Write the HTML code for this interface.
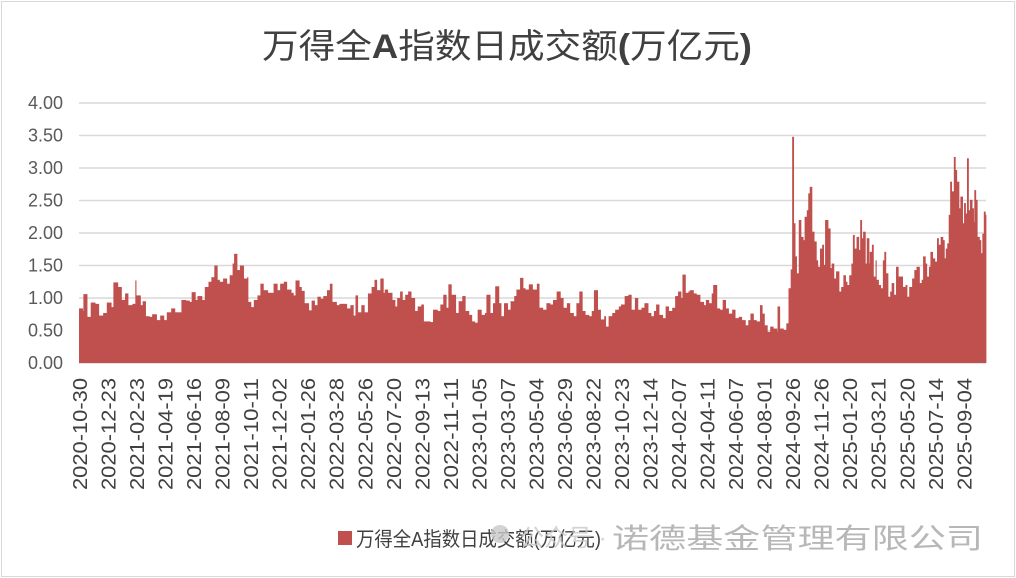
<!DOCTYPE html>
<html><head><meta charset="utf-8">
<style>
html,body{margin:0;padding:0;background:#fff;}
body{width:1016px;height:578px;overflow:hidden;font-family:"Liberation Sans","Noto Sans CJK SC",sans-serif;}
#frame{position:absolute;left:1px;top:1px;width:1012px;height:574px;border:1px solid #d9d9d9;}
</style></head>
<body>
<div id="frame"></div>
<svg id="chart" width="1016" height="578" style="position:absolute;left:0;top:0">
<text x="262" y="58" font-size="34" fill="#404040" textLength="490" lengthAdjust="spacingAndGlyphs" font-family="Liberation Sans, Noto Sans CJK SC, sans-serif">万得全<tspan font-weight="bold">A</tspan>指数日成交额<tspan font-weight="bold">(</tspan>万亿元<tspan font-weight="bold">)</tspan></text>
<g id="grid"></g><g id="bars"></g><g id="yaxis"></g><g id="xaxis"></g>
<g>
<rect x="338" y="531" width="14" height="14" fill="#c0504d"></rect>
<text x="356" y="546" font-size="20" fill="#404040" textLength="245" lengthAdjust="spacingAndGlyphs">万得全A指数日成交额(万亿元)</text>
</g>
<g opacity="0.8">
<circle cx="500" cy="534" r="9" fill="#c8c8c8"></circle>
<text x="520" y="546" font-size="24" fill="#c8c8c8">公众号 ·</text>
<text x="612" y="548" font-size="28" fill="#a6a6a6" textLength="371" lengthAdjust="spacingAndGlyphs">诺德基金管理有限公司</text>
</g>
</svg>
<script>
const tickLabels=["2020-10-30","2020-12-23","2021-02-23","2021-04-19","2021-06-16","2021-08-09","2021-10-11","2021-12-02","2022-01-26","2022-03-28","2022-05-26","2022-07-20","2022-09-13","2022-11-11","2023-01-05","2023-03-07","2023-05-04","2023-06-29","2023-08-22","2023-10-23","2023-12-14","2024-02-07","2024-04-11","2024-06-07","2024-08-01","2024-09-26","2024-11-26","2025-01-20","2025-03-21","2025-05-20","2025-07-14","2025-09-04"];
const yTicks=[0,0.5,1,1.5,2,2.5,3,3.5,4];
const totalDays=1240;
const days=[0,5,6,11,16,22,27,33,38,44,47,53,58,63,67,73,77,78,84,87,91,96,100,106,111,116,120,126,131,137,140,146,151,154,159,162,168,172,177,181,185,189,192,197,202,206,210,212,216,220,225,230,231,235,239,244,248,252,258,262,266,271,275,280,284,290,293,296,301,304,308,314,318,322,326,330,334,339,343,346,352,356,361,366,371,375,378,381,386,390,395,400,404,407,412,416,
418,422,428,432,435,439,442,446,450,454,459,463,468,471,475,480,484,490,494,498,502,505,509,515,519,524,528,533,537,541,545,550,555,557,562,566,569,574,577,581,586,590,595,598,603,607,610,615,620,626,629,634,639,644,648,653,658,662,667,671,676,680,684,688,692,697,701,704,709,713,718,720,724,729,733,738,741,746,751,755,760,764,769,773,778,782,786,789,793,798,802,806,811,815,819,823,825,829,833,
835,840,844,849,854,857,861,865,867,872,876,880,884,888,893,897,902,906,911,915,918,922,926,931,934,937,941,945,949,954,955,958,963,967,970,973,975,977,979,981,984,987,990,992,995,997,999,1002,1005,1008,1010,1013,1016,1018,1020,1024,1027,1029,1032,1035,1039,1042,1045,1048,1050,1053,1056,1058,1060,1063,1066,1068,1070,1072,1075,1077,1080,1081,1084,1086,1089,1090,1093,1096,1099,1101,1103,1106,1109,1111,1114,1117,1120,1123,1126,1130,1132,1135,1139,1142,1145,1149,1152,1154,1157,1159,1162,1164,1167,1170,1173,1175,1178,1181,1183,1185,1187,1189,1191,1193,1196,1198,1200,1203,1205,1208,1210,1212,1214,1216,1218,1221,1223,1224,1226,1228,1231,1233,1235,1237,1239];
const values=[0.84,0.80,1.06,0.71,0.93,0.91,0.73,0.77,0.93,0.86,1.24,1.17,0.97,1.07,0.89,0.91,1.27,1.04,0.89,0.95,0.72,0.71,0.75,0.66,0.73,0.66,0.78,0.84,0.78,0.78,0.97,0.96,0.94,1.09,0.97,1.03,0.97,1.17,1.25,1.32,1.50,1.28,1.25,1.30,1.22,1.35,1.53,1.68,1.43,1.50,1.30,1.32,0.94,0.86,0.97,1.04,1.22,1.12,1.08,1.08,1.22,1.12,1.22,1.25,1.13,1.08,1.04,1.27,1.17,1.11,0.92,0.81,0.96,0.89,1.02,0.99,1.03,1.12,1.22,0.94,0.89,0.91,0.91,0.84,0.89,0.73,1.04,0.78,0.89,0.78,1.07,1.17,1.28,1.12,1.30,1.08,
1.13,1.08,0.97,0.87,1.00,1.10,0.97,1.05,1.10,1.00,0.80,0.87,0.90,0.64,0.64,0.63,0.82,0.80,0.90,1.05,0.85,1.21,1.05,0.77,0.95,1.03,0.80,0.74,0.64,0.62,0.82,0.74,0.77,1.05,0.77,0.92,1.18,0.92,0.72,0.92,0.82,0.95,1.03,1.13,1.31,1.15,1.13,1.21,1.13,1.22,0.85,0.82,0.92,0.90,0.97,1.10,1.00,0.85,0.92,0.77,0.72,0.92,1.10,0.80,0.74,0.72,0.80,1.12,0.82,0.67,0.72,0.56,0.72,0.77,0.82,0.87,0.90,1.03,1.05,0.82,1.00,0.82,0.85,0.92,0.77,0.72,0.80,0.90,0.74,0.69,0.87,0.80,0.85,1.03,1.10,1.00,1.36,1.08,1.10,
1.12,1.07,1.05,0.94,0.89,0.97,0.92,1.07,1.20,0.84,0.82,0.97,0.84,0.76,0.82,0.69,0.71,0.66,0.58,0.66,0.76,0.66,0.64,0.89,0.76,0.58,0.48,0.56,0.53,0.48,0.87,0.53,0.51,0.61,1.15,1.44,3.48,2.15,1.64,1.38,2.20,1.94,1.89,2.25,2.35,2.61,2.71,2.02,1.87,1.58,1.48,1.76,1.82,1.51,2.20,2.07,1.46,1.53,1.30,1.41,1.10,1.17,1.35,1.25,1.20,1.35,1.53,1.97,1.76,1.94,1.74,2.20,1.92,2.02,1.53,1.92,1.53,1.71,1.82,1.33,1.58,1.28,1.20,1.15,1.58,1.71,1.38,1.02,1.10,1.23,1.05,1.48,1.33,1.33,1.17,1.20,1.02,1.17,1.30,1.43,1.48,1.23,1.28,1.64,1.53,1.33,1.48,1.71,1.61,1.56,1.92,1.82,1.94,1.89,1.61,1.76,1.84,2.28,2.79,2.64,3.17,2.97,2.79,2.38,2.56,2.15,2.46,2.30,3.15,2.35,2.51,2.38,2.17,2.66,2.51,1.94,1.89,1.69,1.99,2.33,2.28];

const X0=79,X1=986,Y0=363,PPU=65;
const xs=d=>X0+(X1-X0)*d/totalDays;
const ys=v=>Y0-v*PPU;
const NS="http://www.w3.org/2000/svg";
const grid=document.getElementById('grid'),bars=document.getElementById('bars'),ya=document.getElementById('yaxis'),xa=document.getElementById('xaxis');
yTicks.forEach(t=>{
  const l=document.createElementNS(NS,'line');
  l.setAttribute('x1',X0);l.setAttribute('x2',X1);l.setAttribute('y1',ys(t));l.setAttribute('y2',ys(t));
  l.setAttribute('stroke','#d9d9d9');l.setAttribute('stroke-width','1.5');
  
  
  grid.appendChild(l);
  const tx=document.createElementNS(NS,'text');
  tx.setAttribute('x',63);tx.setAttribute('y',ys(t)+6);tx.setAttribute('text-anchor','end');
  tx.setAttribute('font-size','18');tx.setAttribute('fill','#595959');
  tx.textContent=t.toFixed(2);
  
  
  ya.appendChild(tx);
});
values.forEach((v,i)=>{
  const d0=days[i],d1=(i+1<days.length)?days[i+1]:totalDays;
  const r=document.createElementNS(NS,'rect');
  const x=xs(d0),w=xs(d1)-x+0.4;
  r.setAttribute('x',x);r.setAttribute('width',w);
  r.setAttribute('y',ys(v));r.setAttribute('height',v*PPU);
  r.setAttribute('fill','#c0504d');
  
  
  bars.appendChild(r);
});
tickLabels.forEach((lab,i)=>{
  const d=i*39;
  const x=xs(d)+1;
  const tx=document.createElementNS(NS,'text');
  tx.setAttribute('transform','translate('+(x+7)+',378) rotate(-90)');
  tx.setAttribute('text-anchor','end');tx.setAttribute('font-size','20');tx.setAttribute('fill','#404040');
  tx.setAttribute('textLength','112');tx.setAttribute('lengthAdjust','spacingAndGlyphs');
  tx.textContent=lab;
  
  
  xa.appendChild(tx);
});
</script>
</body></html>
